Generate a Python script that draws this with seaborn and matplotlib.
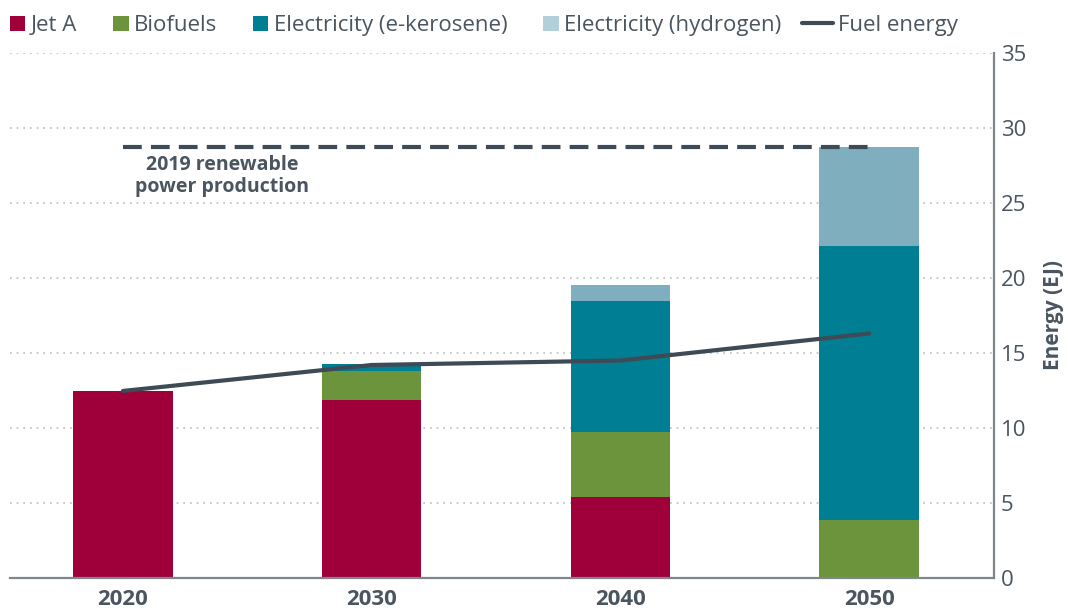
import numpy as np
import pandas as pd
import seaborn as sns
import matplotlib.pyplot as plt
from matplotlib.patches import Patch, Rectangle
from matplotlib.lines import Line2D
from matplotlib.legend_handler import HandlerPatch

# data (EJ)
years = ['2020', '2030', '2040', '2050']
jet_a = [12.47, 11.87, 5.4, 0.0]
biofuels = [0.0, 1.93, 4.33, 3.87]
e_kerosene = [0.0, 0.47, 8.74, 18.26]
hydrogen = [0.0, 0.0, 1.06, 6.62]
fuel_energy = [12.47, 14.2, 14.5, 16.3]
renewable_2019 = 28.75

names = ['Jet A', 'Biofuels', 'Electricity (e-kerosene)', 'Electricity (hydrogen)']
colors = ['#A0003A', '#6C943C', '#007F94', '#7FAEBE']
legend_colors = ['#A0003A', '#6C943C', '#007F94', '#B3CFD9']
line_col = '#3E4A55'
txt_col = '#4A5560'

sns.set_style('white')
plt.rcParams['font.family'] = ['Open Sans', 'DejaVu Sans']

df = pd.DataFrame({'year': years, 'Jet A': jet_a, 'Biofuels': biofuels,
                   'Electricity (e-kerosene)': e_kerosene,
                   'Electricity (hydrogen)': hydrogen})
cum = df[names].cumsum(axis=1)

fig = plt.figure(figsize=(10.68, 6.09), dpi=100)
ax = fig.add_axes([10 / 1068, 31 / 609, 984 / 1068, 525 / 609])

# stacked bars: draw tallest cumulative first, then overlay lower layers
for name, col in zip(names[::-1], colors[::-1]):
    sns.barplot(x=df['year'], y=cum[name], color=col, width=0.4,
                saturation=1, linewidth=0, ax=ax, order=years)

pos = np.arange(len(years))
sns.lineplot(x=pos, y=fuel_energy, color=line_col, lw=3, ax=ax)
ax.hlines(renewable_2019, pos[0], pos[-1], colors=line_col, lw=3,
          linestyles=(0, (4.5, 2.2)), zorder=3)
ax.text(pos[0] + 0.4, renewable_2019 - 0.55, '2019 renewable\npower production',
        ha='center', va='top', fontsize=14, fontweight='bold', color=txt_col,
        linespacing=1.15)

ax.set_xlim(-0.454, 3.502)
ax.set_ylim(0, 35)
ax.set_yticks(range(0, 36, 5))
ax.yaxis.tick_right()
ax.yaxis.set_label_position('right')
ax.set_ylabel('Energy (EJ)', fontsize=15, fontweight='bold', color=txt_col,
              labelpad=12)
ax.set_xlabel('')
ax.tick_params(axis='y', length=0, labelsize=16, labelcolor=txt_col, pad=5)
ax.tick_params(axis='x', length=0, labelsize=16, labelcolor=txt_col, pad=8)
for lab in ax.get_xticklabels():
    lab.set_fontweight('bold')

ax.grid(axis='y', color='#BBBBBB', linestyle=(0, (1, 3)), lw=1.2)
ax.set_axisbelow(True)
for s in ['left', 'top']:
    ax.spines[s].set_visible(False)
for s in ['right', 'bottom']:
    ax.spines[s].set_color('#7F868C')
    ax.spines[s].set_linewidth(1.6)


# square swatch placed at the right end of the (longer) handle box
def square(legend, orig_handle, xdescent, ydescent, width, height, fontsize):
    return Rectangle((-xdescent + width - height, -ydescent), height, height)


handles = [Patch(facecolor=c, edgecolor='none') for c in legend_colors]
handles.append(Line2D([0], [0], color=line_col, lw=3))
fig.legend(handles, names + ['Fuel energy'], loc='upper left',
           bbox_to_anchor=(-0.024, 1.008), ncol=5, frameon=False, fontsize=16,
           handlelength=1.4, handleheight=0.68, handletextpad=0.25,
           columnspacing=0.9, labelcolor=txt_col,
           handler_map={Patch: HandlerPatch(patch_func=square)})

fig.savefig('out.png', dpi=100)
